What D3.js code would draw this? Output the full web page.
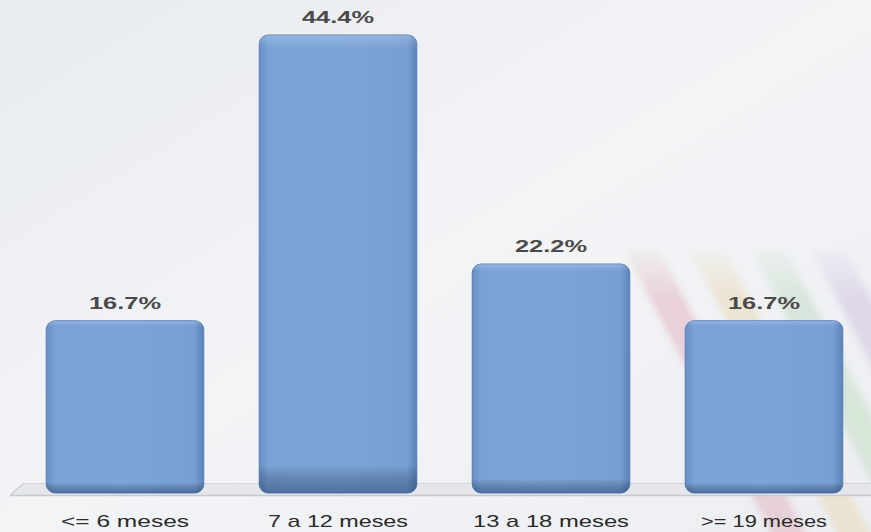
<!DOCTYPE html>
<html><head><meta charset="utf-8">
<script src="https://cdn.jsdelivr.net/npm/d3@7"></script>
<style>html,body{margin:0;padding:0;background:#eef0f3;}svg{display:block;}</style>
</head><body><div id="chart"></div>
<script>
const categories = ["<= 6 meses", "7 a 12 meses", "13 a 18 meses", ">= 19 meses"];
const values = [16.7, 44.4, 22.2, 16.7];
const valueLabels = ["16.7%", "44.4%", "22.2%", "16.7%"];

const W = 871, H = 532;
const svg = d3.select("#chart").append("svg").attr("width", W).attr("height", H);
const defs = svg.append("defs");

const bg = defs.append("linearGradient").attr("id","bg").attr("x1","0").attr("y1","0").attr("x2","1").attr("y2","1");
bg.append("stop").attr("offset","0").attr("stop-color","#e8ebf0");
bg.append("stop").attr("offset","0.5").attr("stop-color","#f3f4f6");
bg.append("stop").attr("offset","1").attr("stop-color","#eceef2");
svg.append("rect").attr("width",W).attr("height",H).attr("fill","url(#bg)");

// faint decorative diagonal stripes
defs.append("filter").attr("id","blur").append("feGaussianBlur").attr("stdDeviation", 3);
const fade = defs.append("linearGradient").attr("id","fade").attr("x1","0").attr("y1","0").attr("x2","0").attr("y2","1");
fade.append("stop").attr("offset","0").attr("stop-color","#fff").attr("stop-opacity","0");
fade.append("stop").attr("offset","0.2").attr("stop-color","#fff").attr("stop-opacity","1");
fade.append("stop").attr("offset","1").attr("stop-color","#fff").attr("stop-opacity","1");
defs.append("mask").attr("id","fm").attr("maskContentUnits","userSpaceOnUse")
  .append("rect").attr("x",0).attr("y",240).attr("width",W).attr("height",292).attr("fill","url(#fade)");
const stripeG = svg.append("g").attr("filter","url(#blur)").attr("mask","url(#fm)");
const stripes = [
  {x:625, c:"#e3bcc5"}, {x:690, c:"#eadcbd"}, {x:752, c:"#c9dfc9"}, {x:812, c:"#d3c8e3"}, {x:872, c:"#c6d9e8"}
];
stripes.forEach(s => {
  stripeG.append("path")
    .attr("d", `M${s.x},250 L${s.x+34},250 L${s.x+184},540 L${s.x+150},540 Z`)
    .attr("fill", s.c).attr("opacity", 0.6);
});

const barG = defs.append("linearGradient").attr("id","barG").attr("x1","0").attr("y1","0").attr("x2","1").attr("y2","0");
barG.append("stop").attr("offset","0").attr("stop-color","#6690c7");
barG.append("stop").attr("offset","0.06").attr("stop-color","#7aa2d6");
barG.append("stop").attr("offset","0.5").attr("stop-color","#7ca4d8");
barG.append("stop").attr("offset","0.94").attr("stop-color","#789fd3");
barG.append("stop").attr("offset","1").attr("stop-color","#5a82b9");
const barV = defs.append("linearGradient").attr("id","barV").attr("x1","0").attr("y1","0").attr("x2","0").attr("y2","1");
barV.append("stop").attr("offset","0").attr("stop-color","#ffffff").attr("stop-opacity","0.2");
barV.append("stop").attr("offset","0.03").attr("stop-color","#ffffff").attr("stop-opacity","0");
barV.append("stop").attr("offset","0.94").attr("stop-color","#000").attr("stop-opacity","0");
barV.append("stop").attr("offset","1").attr("stop-color","#1d3a66").attr("stop-opacity","0.45");

const x = d3.scaleBand().domain(categories).range([18.5, 870.5]).paddingInner(0.26).paddingOuter(0.13);
const y = d3.scaleLinear().domain([0, 44.4]).range([493, 35]);

// floor
svg.append("path").attr("d", "M24,483 L871,483 L871,495 L10,495 Z").attr("fill","#e4e6ea");
svg.append("line").attr("x1",24).attr("x2",871).attr("y1",483.5).attr("y2",483.5).attr("stroke","#d2d5da").attr("stroke-width",1);
svg.append("line").attr("x1",10).attr("x2",24).attr("y1",495).attr("y2",483).attr("stroke","#b9bcc2").attr("stroke-width",1);
svg.append("line").attr("x1",10).attr("x2",871).attr("y1",495.5).attr("y2",495.5).attr("stroke","#c6c9ce").attr("stroke-width",1.5);

const bars = svg.append("g").selectAll("g").data(categories).join("g");
bars.append("rect")
  .attr("x", d => x(d)).attr("width", x.bandwidth())
  .attr("y", (d,i) => y(values[i])).attr("height", (d,i) => y(0) - y(values[i]))
  .attr("rx", 9).attr("fill", "url(#barG)").attr("stroke","#5a80b6").attr("stroke-width",1);
bars.append("rect")
  .attr("x", d => x(d)).attr("width", x.bandwidth())
  .attr("y", (d,i) => y(values[i])).attr("height", (d,i) => y(0) - y(values[i]))
  .attr("rx", 9).attr("fill", "url(#barV)");

bars.append("text")
  .attr("x", d => x(d) + x.bandwidth()/2)
  .attr("y", (d,i) => y(values[i]) - 12)
  .attr("text-anchor","middle")
  .attr("font-family","Liberation Sans, Arial, sans-serif")
  .attr("font-size", 17).attr("font-weight","bold").attr("fill","#4a4a4a")
  .attr("textLength", 72).attr("lengthAdjust","spacingAndGlyphs")
  .text((d,i) => valueLabels[i]);

const catLen = [128, 140, 156, 126];
svg.append("g").selectAll("text").data(categories).join("text")
  .attr("x", d => x(d) + x.bandwidth()/2)
  .attr("y", 527)
  .attr("text-anchor","middle")
  .attr("font-family","Liberation Sans, Arial, sans-serif")
  .attr("font-size", 17).attr("fill","#2a2a2a")
  .attr("textLength", (d,i) => catLen[i]).attr("lengthAdjust","spacingAndGlyphs")
  .text(d => d);
</script></body></html>
